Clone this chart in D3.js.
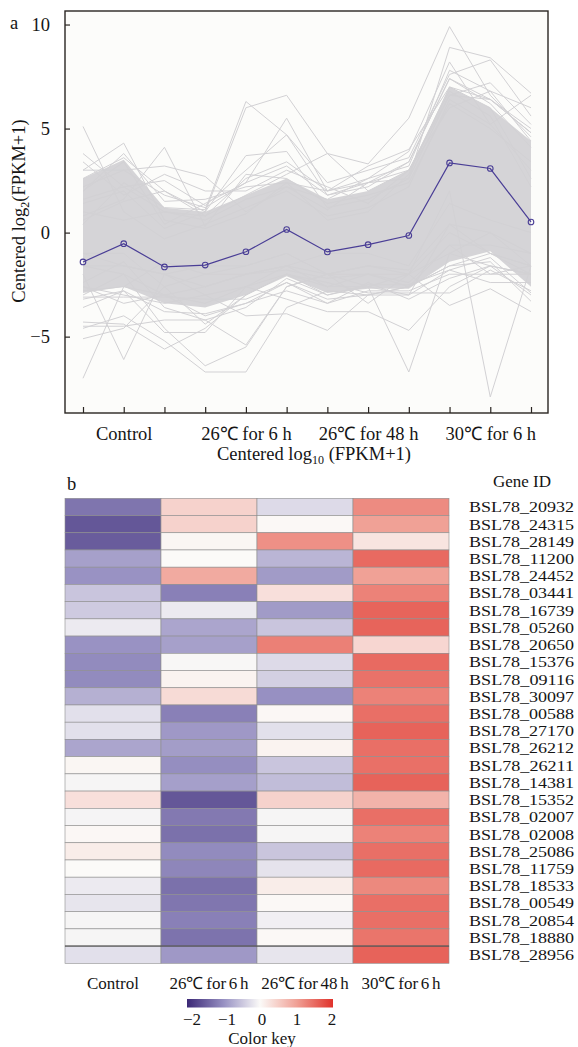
<!DOCTYPE html>
<html>
<head>
<meta charset="utf-8">
<script src="https://cdn.jsdelivr.net/npm/d3@7"></script>
<style>
  body { margin: 0; background: #fff; }
  svg text { font-family: "Liberation Serif", "Times New Roman", serif; fill: #151515; }
</style>
</head>
<body>
<svg id="chart" width="578" height="1047"></svg>
<script>
// ---- panel a data ----
// 12 samples: 3 replicates for each condition
const sampleTickLabels = ["", "Control", "", "", "26℃ for 6 h", "", "", "26℃ for 48 h", "", "", "30℃ for 6 h", ""];
const yTickValues = [-5, 0, 5, 10];

// mean profile of the cluster (blue line)
const meanProfile = [-1.41, -0.53, -1.65, -1.56, -0.92, 0.15, -0.93, -0.58, -0.14, 3.35, 3.08, 0.51];

// dense core of the gray lines (upper / lower edge at each sample)
const bandUpper = [2.6, 3.5, 1.2, 1.0, 1.8, 2.6, 1.6, 2.0, 3.0, 7.0, 6.0, 4.4];
const bandLower = [-2.9, -2.6, -3.4, -3.6, -3.0, -2.1, -2.9, -2.7, -2.7, -1.4, -0.9, -2.6];

// single gene profiles that stick out of the core
const geneProfiles = [
  [5.1, 1.0, -0.3, 0.4, 1.2, 2.0, 0.8, 1.2, 2.2, 6.4, 5.2, 3.0],
  [3.0, 4.3, 0.6, 0.2, 0.9, 2.4, 0.6, 1.0, 2.8, 7.0, 6.0, 2.6],
  [0.8, 1.6, 4.1, 0.3, 2.8, 2.6, 1.4, 1.8, 2.4, 6.2, 5.0, 3.4],
  [2.2, 3.0, 3.2, 2.7, 1.0, 2.2, 1.1, 2.4, 3.0, 6.8, 5.6, 2.2],
  [0.4, 2.4, 1.2, 1.1, 6.3, 4.7, 1.8, 2.2, 3.4, 7.4, 6.2, 4.1],
  [1.4, 2.0, 0.2, 1.0, 6.0, 6.6, 3.8, 3.3, 5.5, 9.9, 6.6, 4.6],
  [0.6, 1.5, 2.0, 1.0, 3.7, 3.9, 1.2, 1.6, 2.6, 8.9, 8.4, 6.7],
  [1.0, 0.6, 1.0, 0.6, 1.6, 2.2, 1.6, 2.6, 3.9, 8.2, 5.2, 6.6],
  [3.8, 2.2, 2.5, 1.3, 3.0, 4.7, 2.4, 3.0, 3.6, 7.6, 8.3, 5.6],
  [2.6, 3.6, 2.0, 0.8, 2.6, 3.4, 2.0, 2.6, 3.2, 7.8, 6.8, 6.0],
  [3.4, 1.8, 2.8, 2.0, 2.0, 3.0, 2.2, 1.4, 3.0, 6.6, 7.2, 5.2],
  [2.0, 3.4, 0.4, 1.4, 2.4, 5.5, 2.0, 3.2, 4.0, 7.0, 6.4, 4.8],
  [1.6, 2.2, 1.0, 0.8, 1.8, 2.8, 3.8, 2.0, 3.0, 6.0, 6.8, 4.4],
  [3.0, 3.0, 1.8, 1.2, 2.4, 3.2, 1.8, 2.4, 3.4, 7.4, 6.4, 4.8],
  [2.0, 3.8, 1.5, 1.6, 2.2, 2.4, 2.0, 2.4, 2.6, 6.6, 6.4, 5.0],
  [-7.0, -2.6, -1.4, -2.0, -1.6, -1.0, -2.0, -1.6, -1.8, 0.4, -1.0, -1.6],
  [-5.1, -4.6, -2.6, -4.4, -3.0, -2.0, -2.6, -2.0, -2.4, -0.6, -0.6, -1.0],
  [-2.0, -6.1, -2.0, -3.0, -2.6, -1.6, -1.0, -1.0, -1.6, 1.4, 0.6, 0.0],
  [-4.3, -4.4, -5.6, -4.6, -3.0, -2.0, -3.0, -2.6, -2.0, 0.0, -1.0, -1.6],
  [-4.6, -4.0, -5.2, -6.7, -6.7, -3.6, -2.8, -3.0, -2.6, -1.6, -1.0, -2.0],
  [-3.0, -2.0, -4.6, -6.4, -5.5, -2.6, -2.0, -2.6, -3.0, 0.4, 0.0, -1.6],
  [-2.6, -3.0, -3.4, -3.0, -4.0, -3.9, -4.7, -3.0, -2.6, -0.6, -2.0, -1.6],
  [-2.8, -2.6, -3.0, -3.4, -2.6, -3.2, -3.8, -3.8, -4.7, -2.6, -1.6, -2.0],
  [-1.6, -2.0, -3.0, -2.6, -2.0, -1.6, -2.6, -2.6, -6.7, -1.0, -1.6, -2.0],
  [-1.0, -1.6, -2.0, -1.6, -1.6, -1.0, -2.0, -1.6, -2.0, -3.5, -2.7, -3.8],
  [-1.0, -1.0, -2.6, -2.0, -2.0, -1.6, -2.0, -2.0, -2.0, 2.0, -7.9, -1.6],
  [-1.6, -1.6, -2.0, -2.6, -2.0, -1.8, -2.2, -2.0, -2.6, -1.6, -1.4, -3.3],
  [-3.1, -3.1, -3.1, -3.2, -3.2, -2.4, -3.4, -2.8, -2.8, -2.0, -2.0, -2.0],
  [-4.5, -4.5, -4.2, -4.2, -3.6, -2.2, -3.0, -2.5, -2.5, -1.8, -2.4, -2.4],
  [-3.6, -2.8, -4.8, -4.8, -2.6, -2.0, -2.4, -2.9, -2.9, -2.9, -1.8, -2.8],
  [-2.4, -1.4, -3.6, -4.2, -5.4, -2.6, -2.0, -3.4, -2.0, -1.0, 0.0, -1.0],
  [-3.2, -2.8, -3.8, -3.9, -3.4, -2.4, -3.2, -3.0, -3.0, -1.8, -1.2, -2.9],
  [-2.6, -3.4, -3.0, -4.0, -3.4, -2.8, -3.4, -2.4, -3.2, -2.2, -1.6, -3.0]
];

// ---- panel b data ----
const conditions = ["Control", "26℃ for 6 h", "26℃ for 48 h", "30℃ for 6 h"];
const geneIds = [
  "BSL78_20932", "BSL78_24315", "BSL78_28149", "BSL78_11200", "BSL78_24452", "BSL78_03441",
  "BSL78_16739", "BSL78_05260", "BSL78_20650", "BSL78_15376", "BSL78_09116", "BSL78_30097",
  "BSL78_00588", "BSL78_27170", "BSL78_26212", "BSL78_26211", "BSL78_14381", "BSL78_15352",
  "BSL78_02007", "BSL78_02008", "BSL78_25086", "BSL78_11759", "BSL78_18533", "BSL78_00549",
  "BSL78_20854", "BSL78_18880", "BSL78_28956"
];
const controlVals = [-1.26, -1.55, -1.5, -0.85, -0.98, -0.5, -0.45, -0.15, -0.98, -1.05, -1.05, -0.7, -0.25, -0.25,
  -0.8, 0.05, -0.05, 0.3, -0.06, 0.03, 0.15, 0.0, -0.15, -0.2, -0.05, -0.05, -0.25];
const h6Vals = [0.45, 0.45, 0.05, 0.0, 0.9, -1.15, -0.15, -0.8, -0.85, -0.03, 0.08, 0.35, -1.15, -0.92,
  -0.88, -1.02, -0.86, -1.55, -1.22, -1.3, -1.05, -1.1, -1.3, -1.25, -1.15, -1.28, -0.92];
const h48Vals = [-0.3, 0.02, 1.15, -0.65, -0.9, 0.3, -0.9, -0.5, 1.3, -0.3, -0.4, -1.0, 0.03, -0.25,
  0.08, -0.5, -0.58, 0.45, -0.05, -0.05, -0.5, -0.22, 0.15, 0.02, -0.1, 0.02, -0.2];
const t30Vals = [1.2, 1.0, 0.25, 1.5, 1.0, 1.28, 1.55, 1.55, 0.4, 1.5, 1.42, 1.28, 1.45, 1.56,
  1.45, 1.44, 1.56, 0.8, 1.45, 1.28, 1.45, 1.5, 1.22, 1.45, 1.45, 1.4, 1.56];
const heatValues = [controlVals, h6Vals, h48Vals, t30Vals];
const keyTicks = [-2, -1, 0, 1, 2];

const minus = d => (d < 0 ? "\u2212" + Math.abs(d) : String(d));
const svg = d3.select("#chart");

// ================= panel a =================
const frame = { left: 65, right: 548, top: 11, bottom: 413 };
const xA = d3.scalePoint().domain(d3.range(12)).range([83, 531]);
const yA = d3.scaleLinear().domain([-8.67, 10.65]).range([frame.bottom, frame.top]);

svg.append("rect")
  .attr("x", frame.left).attr("y", frame.top)
  .attr("width", frame.right - frame.left).attr("height", frame.bottom - frame.top)
  .attr("fill", "#fcfcfa");

const band = d3.area()
  .x((d, i) => xA(i))
  .y0((d, i) => yA(bandLower[i]))
  .y1(d => yA(d));
svg.append("path").datum(bandUpper)
  .attr("d", band)
  .attr("fill", "#d5d4d7");

const line = d3.line().x((d, i) => xA(i)).y(d => yA(d));
svg.append("g").selectAll("path")
  .data(geneProfiles)
  .enter().append("path")
    .attr("d", line)
    .attr("fill", "none")
    .attr("stroke", "#d2d1d4")
    .attr("stroke-width", 1);

svg.append("path").datum(meanProfile)
  .attr("d", line)
  .attr("fill", "none")
  .attr("stroke", "#4a3e96")
  .attr("stroke-width", 1.2);
svg.append("g").selectAll("circle")
  .data(meanProfile)
  .enter().append("circle")
    .attr("cx", (d, i) => xA(i))
    .attr("cy", d => yA(d))
    .attr("r", 2.8)
    .attr("fill", "none")
    .attr("stroke", "#4a3e96")
    .attr("stroke-width", 1.1);

const xAxis = svg.append("g")
  .attr("transform", `translate(0,${frame.bottom})`)
  .call(d3.axisBottom(xA).tickSize(-6).tickPadding(14).tickFormat(i => sampleTickLabels[i]));
const yAxis = svg.append("g")
  .attr("transform", `translate(${frame.left},0)`)
  .call(d3.axisLeft(yA).tickValues(yTickValues).tickSize(-5).tickPadding(15).tickFormat(minus));
[xAxis, yAxis].forEach(g => {
  g.select(".domain").remove();
  g.selectAll(".tick line").attr("stroke", "#2a2522").attr("stroke-width", 1.2);
  g.selectAll("text").attr("font-size", 18.5).attr("fill", "#151515")
    .style("font-family", '"Liberation Serif", "Times New Roman", serif');
});

svg.append("rect")
  .attr("x", frame.left).attr("y", frame.top)
  .attr("width", frame.right - frame.left).attr("height", frame.bottom - frame.top)
  .attr("fill", "none").attr("stroke", "#2a2522").attr("stroke-width", 1.4);

svg.append("text").attr("x", 10).attr("y", 29).attr("font-size", 18.5).text("a");

const yTitle = svg.append("text")
  .attr("transform", "translate(25,211) rotate(-90)")
  .attr("text-anchor", "middle")
  .attr("font-size", 18.5);
yTitle.append("tspan").text("Centered log");
yTitle.append("tspan").attr("font-size", 12).attr("dy", 4).text("2");
yTitle.append("tspan").attr("dy", -4).text("(FPKM+1)");

const xTitle = svg.append("text")
  .attr("x", 314).attr("y", 460)
  .attr("text-anchor", "middle")
  .attr("font-size", 18.5);
xTitle.append("tspan").text("Centered log");
xTitle.append("tspan").attr("font-size", 12).attr("dy", 4).text("10");
xTitle.append("tspan").attr("dy", -4).text(" (FPKM+1)");

// ================= panel b =================
const colB = d3.scaleBand().domain(conditions).range([65, 449]);
const rowB = d3.scaleBand().domain(geneIds).range([498.3, 963.3]);
const heat = d3.scaleLinear()
  .domain([-2, -1, 0, 1, 2])
  .range(["#3b2876", "#9790c2", "#fbfaf8", "#f0a196", "#e0322b"])
  .clamp(true);

const cells = [];
conditions.forEach((c, j) => geneIds.forEach((g, i) => cells.push({ c, g, v: heatValues[j][i] })));

svg.append("g").selectAll("rect")
  .data(cells)
  .enter().append("rect")
    .attr("x", d => colB(d.c))
    .attr("y", d => rowB(d.g))
    .attr("width", colB.bandwidth())
    .attr("height", rowB.bandwidth())
    .attr("fill", d => heat(d.v))
    .attr("stroke", "#8e8e8e")
    .attr("stroke-width", 0.6);

// separator above the last gene
svg.append("line")
  .attr("x1", colB.range()[0]).attr("x2", colB.range()[1])
  .attr("y1", rowB(geneIds[geneIds.length - 1])).attr("y2", rowB(geneIds[geneIds.length - 1]))
  .attr("stroke", "#444").attr("stroke-width", 1);

svg.append("g").selectAll("text")
  .data(geneIds)
  .enter().append("text")
    .attr("x", 469)
    .attr("y", d => rowB(d) + rowB.bandwidth() / 2)
    .attr("dy", "0.36em")
    .attr("font-size", 15)
    .attr("textLength", 105)
    .attr("lengthAdjust", "spacingAndGlyphs")
    .text(d => d);

svg.append("text").attr("x", 522).attr("y", 487).attr("text-anchor", "middle")
  .attr("font-size", 17).text("Gene ID");
svg.append("text").attr("x", 67).attr("y", 490).attr("font-size", 18.5).text("b");

const colAxis = svg.append("g")
  .attr("transform", `translate(0,${rowB.range()[1]})`)
  .call(d3.axisBottom(colB).tickSize(0).tickPadding(14));
colAxis.select(".domain").remove();
colAxis.selectAll("text").attr("font-size", 17).attr("fill", "#151515")
  .attr("word-spacing", -1.5)
  .style("font-family", '"Liberation Serif", "Times New Roman", serif');

// color key
const kScale = d3.scaleLinear().domain([-2, 2]).range([192, 332]);
const grad = svg.append("defs").append("linearGradient").attr("id", "keyGrad");
d3.range(-2, 2.01, 0.25).forEach(v => {
  grad.append("stop").attr("offset", `${(v + 2) / 4 * 100}%`).attr("stop-color", heat(v));
});
svg.append("rect")
  .attr("x", kScale(-2) - 5).attr("y", 999)
  .attr("width", kScale(2) - kScale(-2) + 6).attr("height", 8.5)
  .attr("fill", "url(#keyGrad)");
svg.append("g").selectAll("text")
  .data(keyTicks)
  .enter().append("text")
    .attr("x", d => kScale(d))
    .attr("y", 1025)
    .attr("text-anchor", "middle")
    .attr("font-size", 17)
    .text(minus);
svg.append("text").attr("x", 262).attr("y", 1044).attr("text-anchor", "middle")
  .attr("font-size", 17).text("Color key");
</script>
</body>
</html>
